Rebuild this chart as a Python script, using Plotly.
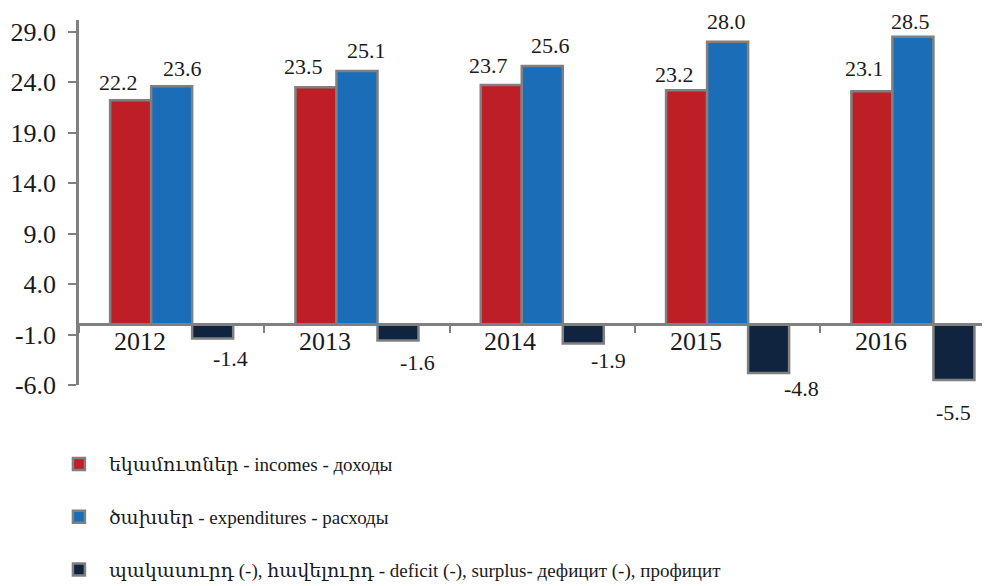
import plotly.graph_objects as go

years = ["2012", "2013", "2014", "2015", "2016"]
incomes = [22.2, 23.5, 23.7, 23.2, 23.1]
expenditures = [23.6, 25.1, 25.6, 28.0, 28.5]
deficit = [-1.4, -1.6, -1.9, -4.8, -5.5]
series_names = [
    "եկամուտներ - incomes - доходы",
    "ծախսեր - expenditures - расходы",
    "պակասուրդ (-), հավելուրդ - deficit (-), surplus- дефицит (-), профицит",
]
yticks = [-6, -1, 4, 9, 14, 19, 24, 29]

# label nudges in pixels (style only)
inc_dx = [-12, -12, -13, -12, -7]
inc_dy = [18, 21, 20, 16, 23]
exp_dx = [11, 10, 8, -1, -2]
exp_dy = [18, 20, 20, 20, 15]
def_dx = [18, 20, 25, 33, 0]
def_dy = [20, 22, 17, 16, 33]

colors = ["#BE1F27", "#1A6DB6", "#10233F"]
outline = "#808080"
FONT = "Liberation Serif"
LEGFONT = "Liberation Serif, DejaVu Serif"
bargap = 0.336
w = (1 - bargap) / 3

fig = go.Figure()
for i, (vals, name) in enumerate(zip([incomes, expenditures, deficit], series_names)):
    fig.add_trace(go.Bar(
        x=years, y=vals, name=name, legendgroup=str(i),
        marker=dict(color=colors[i], line=dict(color=outline, width=2.5)),
    ))

lab = dict(size=22, color="#1a1a1a", family=FONT)
ann = []
for k, yr in enumerate(years):
    ann.append(dict(x=k, y=0, xref="x", yref="y", text=yr, showarrow=False,
                    yanchor="top", xanchor="center", xshift=-32, yshift=-1,
                    font=dict(size=26, color="#1a1a1a", family=FONT)))
    ann.append(dict(x=k - w, y=incomes[k], xref="x", yref="y", text=f"{incomes[k]:.1f}",
                    showarrow=False, yanchor="middle", xshift=inc_dx[k], yshift=inc_dy[k], font=lab))
    ann.append(dict(x=k, y=expenditures[k], xref="x", yref="y", text=f"{expenditures[k]:.1f}",
                    showarrow=False, yanchor="middle", xshift=exp_dx[k], yshift=exp_dy[k], font=lab))
    ann.append(dict(x=k + w, y=deficit[k], xref="x", yref="y", text=f"{deficit[k]:.1f}",
                    showarrow=False, yanchor="middle", xshift=def_dx[k], yshift=-def_dy[k], font=lab))

ymin, ymax = -6, 30.15
fig.update_layout(
    width=990, height=586,
    margin=dict(l=71, r=8, t=12, b=209, autoexpand=False),
    paper_bgcolor="white", plot_bgcolor="white",
    barmode="group", bargap=bargap, bargroupgap=0,
    font=dict(family=FONT, color="#1a1a1a"),
    xaxis=dict(type="category", range=[-0.5, 4.416], anchor="free",
               position=(0 - ymin) / (ymax - ymin), automargin=False,
               showline=True, linecolor=outline, linewidth=2.5,
               ticks="outside", tickson="boundaries", ticklen=7, tickwidth=2,
               tickcolor=outline, showticklabels=False, showgrid=False, zeroline=False),
    yaxis=dict(range=[ymin, ymax], tickvals=yticks, ticktext=[f"{v:.1f}" for v in yticks],
               automargin=False,
               showline=True, linecolor=outline, linewidth=2.5,
               ticks="outside", ticklen=8, tickwidth=2, tickcolor=outline,
               showgrid=False, zeroline=False, ticklabelstandoff=7,
               tickfont=dict(size=26, color="#1a1a1a", family=FONT)),
    legend=dict(orientation="v", x=-0.033, xanchor="left", y=-0.165, yanchor="top",
                font=dict(size=19, family=LEGFONT, color="#1a1a1a"),
                tracegroupgap=25, itemwidth=50, traceorder="grouped"),
    annotations=ann,
)

fig.write_html("out.html")
